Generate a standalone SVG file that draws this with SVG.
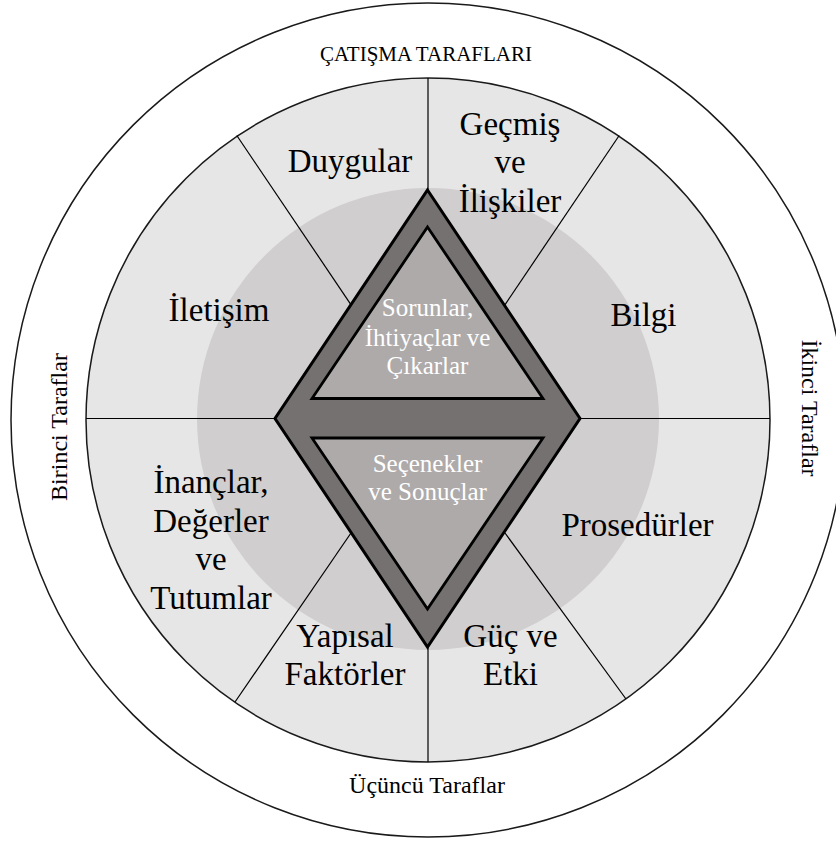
<svg xmlns="http://www.w3.org/2000/svg" width="836" height="843" viewBox="0 0 836 843">
  <style>
    .ring { fill: #ffffff; stroke: #1a1a1a; stroke-width: 1.5; }
    .field { fill: #E7E6E6; stroke: #1a1a1a; stroke-width: 1.5; }
    .core { fill: #D0CECE; stroke: none; }
    .divider { stroke: #000000; stroke-width: 1.2; fill: none; }
    .diamond { fill: #767171; stroke: #000000; stroke-width: 3; stroke-linejoin: miter; }
    .tri { fill: #AEAAAA; stroke: #000000; stroke-width: 2.8; }
    text { font-family: 'Liberation Serif', 'DejaVu Serif', serif; text-anchor: middle; }
    .lbl { font-size: 33px; fill: #000000; }
    .inner { font-size: 25px; fill: #ffffff; }
    .party { font-size: 24px; fill: #000000; }
    .title { font-size: 21px; fill: #000000; }
  </style>

  <!-- background rings -->
  <g id="rings">
    <circle class="ring" cx="428" cy="420" r="417"/>
    <circle class="field" cx="428" cy="420" r="342"/>
    <circle class="core" cx="428" cy="419" r="231"/>
  </g>

  <!-- sector dividers -->
  <g id="connectors">
    <line class="divider" x1="428" y1="78" x2="428" y2="190"/>
    <line class="divider" x1="428" y1="647" x2="428" y2="762"/>
    <line class="divider" x1="86" y1="418.5" x2="275" y2="418.5"/>
    <line class="divider" x1="580" y1="418.5" x2="770" y2="418.5"/>
    <line class="divider" x1="351.4" y1="305.3" x2="236.8" y2="135.5"/>
    <line class="divider" x1="504.6" y1="305.3" x2="619.2" y2="135.5"/>
    <line class="divider" x1="351" y1="533" x2="235" y2="702"/>
    <line class="divider" x1="505" y1="533" x2="626" y2="699"/>
  </g>

  <!-- central diamond -->
  <g id="diamond">
    <polygon class="diamond" points="427.5,190 580,418.5 427.5,647 275,418.5"/>
  </g>

  <g id="issues">
    <polygon class="tri" points="427.5,227 543,398.5 312,398.5"/>
    <text class="inner" x="427.5" y="316">Sorunlar,</text>
    <text class="inner" x="427.5" y="346">İhtiyaçlar ve</text>
    <text class="inner" x="427.5" y="374">Çıkarlar</text>
  </g>

  <g id="options">
    <polygon class="tri" points="312,438 543,438 427.5,609"/>
    <text class="inner" x="427.5" y="472">Seçenekler</text>
    <text class="inner" x="427.5" y="500">ve Sonuçlar</text>
  </g>

  <!-- sector labels -->
  <g id="duygular"><text class="lbl" x="350" y="172">Duygular</text></g>
  <g id="gecmis">
    <text class="lbl" x="510" y="135">Geçmiş</text>
    <text class="lbl" x="510" y="173">ve</text>
    <text class="lbl" x="510" y="212">İlişkiler</text>
  </g>
  <g id="iletisim"><text class="lbl" x="219" y="321">İletişim</text></g>
  <g id="bilgi"><text class="lbl" x="643.5" y="326">Bilgi</text></g>
  <g id="inanclar">
    <text class="lbl" x="211" y="493">İnançlar,</text>
    <text class="lbl" x="211" y="532">Değerler</text>
    <text class="lbl" x="211" y="570">ve</text>
    <text class="lbl" x="211" y="609">Tutumlar</text>
  </g>
  <g id="prosedurler"><text class="lbl" x="637.5" y="536">Prosedürler</text></g>
  <g id="yapisal">
    <text class="lbl" x="345" y="647">Yapısal</text>
    <text class="lbl" x="345" y="685">Faktörler</text>
  </g>
  <g id="guc">
    <text class="lbl" x="510.5" y="647">Güç ve</text>
    <text class="lbl" x="510.5" y="685">Etki</text>
  </g>

  <!-- parties around the rim -->
  <g id="catisma"><text class="title" x="426" y="61">ÇATIŞMA TARAFLARI</text></g>
  <g id="birinci"><text class="party" transform="translate(67,427) rotate(-90)">Birinci Taraflar</text></g>
  <g id="ikinci"><text class="party" transform="translate(802,408) rotate(90)">İkinci Taraflar</text></g>
  <g id="ucuncu"><text class="party" x="427" y="793">Üçüncü Taraflar</text></g>
</svg>
